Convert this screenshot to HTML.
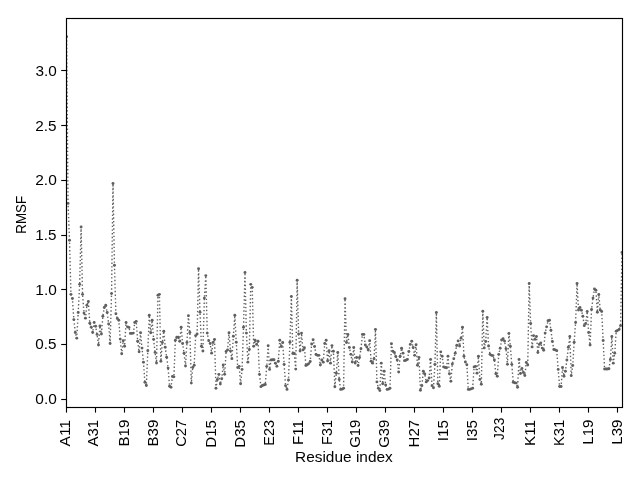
<!DOCTYPE html>
<html><head><meta charset="utf-8"><title>RMSF</title>
<style>
html,body{margin:0;padding:0;background:#fff;width:640px;height:480px;overflow:hidden}
svg{display:block;filter:grayscale(1)}
.t{font-family:"Liberation Sans",sans-serif;font-size:13.889px;fill:#000}
</style></head><body>
<svg width="640" height="480" viewBox="0 0 640 480">
<rect width="640" height="480" fill="#fff"/>
<defs><clipPath id="ax"><rect x="66.5" y="18.5" width="556" height="389"/></clipPath></defs>
<g clip-path="url(#ax)"><polyline points="66.60,36.63 68.05,203.40 69.50,240.27 70.95,294.36 72.40,298.53 73.85,319.59 75.30,332.54 76.75,338.14 78.20,312.57 79.65,284.37 81.10,226.88 82.55,294.36 84.00,313.12 85.45,318.17 86.90,305.22 88.35,301.49 89.80,323.21 91.25,327.16 92.70,332.54 94.15,322.45 95.60,326.29 97.05,334.41 98.50,345.05 99.95,325.96 101.40,333.97 102.85,316.30 104.30,307.52 105.75,305.22 107.20,312.57 108.65,323.98 110.10,343.51 111.55,293.59 113.00,183.54 114.45,265.28 115.90,313.78 117.35,318.50 118.80,320.25 120.25,339.12 121.70,353.72 123.16,340.66 124.61,346.26 126.06,322.45 127.51,326.83 128.96,327.38 130.41,333.42 131.86,333.42 133.31,333.09 134.76,322.45 136.21,321.35 137.66,341.21 139.11,351.85 140.56,332.76 142.01,348.12 143.46,362.16 144.91,382.24 146.36,385.43 147.81,350.64 149.26,315.20 150.71,332.76 152.16,320.25 153.61,339.34 155.06,352.40 156.51,362.93 157.96,295.24 159.41,294.36 160.86,361.29 162.31,342.52 163.76,331.22 165.21,347.24 166.66,357.23 168.11,368.09 169.56,386.30 171.01,387.18 172.46,376.54 173.91,376.87 175.36,340.22 176.81,337.26 178.26,337.26 179.71,341.21 181.16,327.27 182.61,343.51 184.06,353.17 185.51,366.00 186.96,342.52 188.41,315.64 189.86,332.54 191.31,383.12 192.76,367.54 194.21,365.24 195.66,335.61 197.11,333.97 198.56,268.79 200.01,312.13 201.46,346.26 202.91,350.97 204.36,298.09 205.81,275.60 207.26,333.09 208.71,340.66 210.16,343.51 211.61,353.17 213.06,342.52 214.51,339.34 215.96,388.28 217.41,379.50 218.86,374.34 220.31,384.00 221.76,378.73 223.21,365.02 224.66,374.34 226.11,351.52 227.56,349.88 229.01,332.76 230.46,350.97 231.91,358.65 233.37,336.27 234.82,315.20 236.27,342.20 237.72,367.54 239.17,366.33 240.62,383.78 242.07,369.41 243.52,327.27 244.97,272.52 246.42,333.09 247.87,362.16 249.32,349.44 250.77,284.37 252.22,287.34 253.67,346.26 255.12,340.22 256.57,344.39 258.02,341.21 259.47,374.34 260.92,386.63 262.37,385.43 263.82,384.99 265.27,384.44 266.72,366.33 268.17,345.82 269.62,369.41 271.07,359.97 272.52,359.75 273.97,359.75 275.42,363.15 276.87,366.33 278.32,361.29 279.77,340.22 281.22,346.47 282.67,342.52 284.12,364.36 285.57,385.64 287.02,389.38 288.47,380.05 289.92,342.20 291.37,296.55 292.82,353.50 294.27,353.50 295.72,369.08 297.17,280.20 298.62,333.97 300.07,350.97 301.52,333.09 302.97,349.88 304.42,347.68 305.87,365.57 307.32,364.80 308.77,363.59 310.22,361.51 311.67,343.95 313.12,339.78 314.57,346.47 316.02,354.48 317.47,355.36 318.92,355.36 320.37,365.02 321.82,359.97 323.27,362.16 324.72,343.51 326.17,340.22 327.62,360.96 329.07,350.64 330.52,363.15 331.97,345.60 333.42,351.30 334.87,386.74 336.32,373.25 337.77,352.40 339.22,379.50 340.67,389.38 342.12,389.16 343.57,388.28 345.03,298.75 346.48,342.52 347.93,334.41 349.38,347.46 350.83,354.37 352.28,361.95 353.73,347.46 355.18,363.04 356.63,357.56 358.08,365.57 359.53,357.56 360.98,348.78 362.43,334.41 363.88,334.41 365.33,345.05 366.78,346.91 368.23,349.99 369.68,340.66 371.13,361.29 372.58,363.15 374.03,358.76 375.48,329.36 376.93,381.91 378.38,388.28 379.83,390.58 381.28,363.15 382.73,383.78 384.18,371.27 385.63,384.99 387.08,389.38 388.53,389.16 389.98,388.28 391.43,343.73 392.88,351.30 394.33,352.51 395.78,356.46 397.23,359.97 398.68,371.93 400.13,356.24 401.58,348.23 403.03,353.17 404.48,360.63 405.93,360.30 407.38,359.42 408.83,351.52 410.28,344.39 411.73,341.21 413.18,347.46 414.63,355.36 416.08,344.72 417.53,365.24 418.98,357.56 420.43,390.25 421.88,385.64 423.33,371.27 424.78,374.01 426.23,381.91 427.68,380.60 429.13,378.07 430.58,359.42 432.03,385.64 433.48,387.73 434.93,364.36 436.38,312.57 437.83,383.78 439.28,386.30 440.73,351.85 442.18,356.24 443.63,366.88 445.08,367.43 446.53,367.76 447.98,356.24 449.43,373.79 450.88,381.26 452.33,364.03 453.78,358.65 455.23,353.17 456.69,345.49 458.14,340.88 459.59,345.93 461.04,338.14 462.49,327.27 463.94,356.24 465.39,361.95 466.84,364.69 468.29,389.38 469.74,389.38 471.19,388.83 472.64,388.28 474.09,366.88 475.54,366.33 476.99,373.14 478.44,356.24 479.89,379.39 481.34,384.22 482.79,311.25 484.24,347.90 485.69,341.54 487.14,317.51 488.59,345.93 490.04,354.37 491.49,355.36 492.94,355.58 494.39,359.97 495.84,373.79 497.29,376.21 498.74,354.37 500.19,348.23 501.64,340.00 503.09,338.79 504.54,341.10 505.99,348.78 507.44,364.36 508.89,333.42 510.34,346.26 511.79,364.36 513.24,382.24 514.69,382.79 516.14,383.12 517.59,387.29 519.04,359.42 520.49,373.47 521.94,368.53 523.39,372.48 524.84,375.44 526.29,362.49 527.74,365.02 529.19,283.50 530.64,323.54 532.09,346.91 533.54,335.61 534.99,339.34 536.44,336.49 537.89,352.51 539.34,344.39 540.79,342.85 542.24,348.12 543.69,350.21 545.14,333.09 546.59,326.83 548.04,320.80 549.49,320.25 550.94,330.24 552.39,341.43 553.84,349.44 555.29,349.88 556.74,350.64 558.19,369.41 559.64,386.52 561.09,386.52 562.54,367.54 563.99,376.21 565.44,371.27 566.90,359.97 568.35,347.24 569.80,336.49 571.25,375.66 572.70,365.57 574.15,342.20 575.60,322.45 577.05,283.50 578.50,310.05 579.95,307.52 581.40,310.27 582.85,316.30 584.30,325.63 585.75,323.54 587.20,311.47 588.65,332.54 590.10,345.05 591.55,309.39 593.00,298.09 594.45,288.98 595.90,290.30 597.35,312.24 598.80,294.47 600.25,310.05 601.70,311.47 603.15,340.55 604.60,368.97 606.05,368.97 607.50,368.97 608.95,368.75 610.40,359.42 611.85,336.49 613.30,363.15 614.75,353.17 616.20,331.22 617.65,330.35 619.10,329.47 620.55,325.63 622.00,252.55" fill="none" stroke="#606060" stroke-width="1.39" stroke-dasharray="1.39 2.29" stroke-linejoin="round"/><g fill="#606060"><circle cx="66.60" cy="36.63" r="1.45"/><circle cx="68.05" cy="203.40" r="1.45"/><circle cx="69.50" cy="240.27" r="1.45"/><circle cx="70.95" cy="294.36" r="1.45"/><circle cx="72.40" cy="298.53" r="1.45"/><circle cx="73.85" cy="319.59" r="1.45"/><circle cx="75.30" cy="332.54" r="1.45"/><circle cx="76.75" cy="338.14" r="1.45"/><circle cx="78.20" cy="312.57" r="1.45"/><circle cx="79.65" cy="284.37" r="1.45"/><circle cx="81.10" cy="226.88" r="1.45"/><circle cx="82.55" cy="294.36" r="1.45"/><circle cx="84.00" cy="313.12" r="1.45"/><circle cx="85.45" cy="318.17" r="1.45"/><circle cx="86.90" cy="305.22" r="1.45"/><circle cx="88.35" cy="301.49" r="1.45"/><circle cx="89.80" cy="323.21" r="1.45"/><circle cx="91.25" cy="327.16" r="1.45"/><circle cx="92.70" cy="332.54" r="1.45"/><circle cx="94.15" cy="322.45" r="1.45"/><circle cx="95.60" cy="326.29" r="1.45"/><circle cx="97.05" cy="334.41" r="1.45"/><circle cx="98.50" cy="345.05" r="1.45"/><circle cx="99.95" cy="325.96" r="1.45"/><circle cx="101.40" cy="333.97" r="1.45"/><circle cx="102.85" cy="316.30" r="1.45"/><circle cx="104.30" cy="307.52" r="1.45"/><circle cx="105.75" cy="305.22" r="1.45"/><circle cx="107.20" cy="312.57" r="1.45"/><circle cx="108.65" cy="323.98" r="1.45"/><circle cx="110.10" cy="343.51" r="1.45"/><circle cx="111.55" cy="293.59" r="1.45"/><circle cx="113.00" cy="183.54" r="1.45"/><circle cx="114.45" cy="265.28" r="1.45"/><circle cx="115.90" cy="313.78" r="1.45"/><circle cx="117.35" cy="318.50" r="1.45"/><circle cx="118.80" cy="320.25" r="1.45"/><circle cx="120.25" cy="339.12" r="1.45"/><circle cx="121.70" cy="353.72" r="1.45"/><circle cx="123.16" cy="340.66" r="1.45"/><circle cx="124.61" cy="346.26" r="1.45"/><circle cx="126.06" cy="322.45" r="1.45"/><circle cx="127.51" cy="326.83" r="1.45"/><circle cx="128.96" cy="327.38" r="1.45"/><circle cx="130.41" cy="333.42" r="1.45"/><circle cx="131.86" cy="333.42" r="1.45"/><circle cx="133.31" cy="333.09" r="1.45"/><circle cx="134.76" cy="322.45" r="1.45"/><circle cx="136.21" cy="321.35" r="1.45"/><circle cx="137.66" cy="341.21" r="1.45"/><circle cx="139.11" cy="351.85" r="1.45"/><circle cx="140.56" cy="332.76" r="1.45"/><circle cx="142.01" cy="348.12" r="1.45"/><circle cx="143.46" cy="362.16" r="1.45"/><circle cx="144.91" cy="382.24" r="1.45"/><circle cx="146.36" cy="385.43" r="1.45"/><circle cx="147.81" cy="350.64" r="1.45"/><circle cx="149.26" cy="315.20" r="1.45"/><circle cx="150.71" cy="332.76" r="1.45"/><circle cx="152.16" cy="320.25" r="1.45"/><circle cx="153.61" cy="339.34" r="1.45"/><circle cx="155.06" cy="352.40" r="1.45"/><circle cx="156.51" cy="362.93" r="1.45"/><circle cx="157.96" cy="295.24" r="1.45"/><circle cx="159.41" cy="294.36" r="1.45"/><circle cx="160.86" cy="361.29" r="1.45"/><circle cx="162.31" cy="342.52" r="1.45"/><circle cx="163.76" cy="331.22" r="1.45"/><circle cx="165.21" cy="347.24" r="1.45"/><circle cx="166.66" cy="357.23" r="1.45"/><circle cx="168.11" cy="368.09" r="1.45"/><circle cx="169.56" cy="386.30" r="1.45"/><circle cx="171.01" cy="387.18" r="1.45"/><circle cx="172.46" cy="376.54" r="1.45"/><circle cx="173.91" cy="376.87" r="1.45"/><circle cx="175.36" cy="340.22" r="1.45"/><circle cx="176.81" cy="337.26" r="1.45"/><circle cx="178.26" cy="337.26" r="1.45"/><circle cx="179.71" cy="341.21" r="1.45"/><circle cx="181.16" cy="327.27" r="1.45"/><circle cx="182.61" cy="343.51" r="1.45"/><circle cx="184.06" cy="353.17" r="1.45"/><circle cx="185.51" cy="366.00" r="1.45"/><circle cx="186.96" cy="342.52" r="1.45"/><circle cx="188.41" cy="315.64" r="1.45"/><circle cx="189.86" cy="332.54" r="1.45"/><circle cx="191.31" cy="383.12" r="1.45"/><circle cx="192.76" cy="367.54" r="1.45"/><circle cx="194.21" cy="365.24" r="1.45"/><circle cx="195.66" cy="335.61" r="1.45"/><circle cx="197.11" cy="333.97" r="1.45"/><circle cx="198.56" cy="268.79" r="1.45"/><circle cx="200.01" cy="312.13" r="1.45"/><circle cx="201.46" cy="346.26" r="1.45"/><circle cx="202.91" cy="350.97" r="1.45"/><circle cx="204.36" cy="298.09" r="1.45"/><circle cx="205.81" cy="275.60" r="1.45"/><circle cx="207.26" cy="333.09" r="1.45"/><circle cx="208.71" cy="340.66" r="1.45"/><circle cx="210.16" cy="343.51" r="1.45"/><circle cx="211.61" cy="353.17" r="1.45"/><circle cx="213.06" cy="342.52" r="1.45"/><circle cx="214.51" cy="339.34" r="1.45"/><circle cx="215.96" cy="388.28" r="1.45"/><circle cx="217.41" cy="379.50" r="1.45"/><circle cx="218.86" cy="374.34" r="1.45"/><circle cx="220.31" cy="384.00" r="1.45"/><circle cx="221.76" cy="378.73" r="1.45"/><circle cx="223.21" cy="365.02" r="1.45"/><circle cx="224.66" cy="374.34" r="1.45"/><circle cx="226.11" cy="351.52" r="1.45"/><circle cx="227.56" cy="349.88" r="1.45"/><circle cx="229.01" cy="332.76" r="1.45"/><circle cx="230.46" cy="350.97" r="1.45"/><circle cx="231.91" cy="358.65" r="1.45"/><circle cx="233.37" cy="336.27" r="1.45"/><circle cx="234.82" cy="315.20" r="1.45"/><circle cx="236.27" cy="342.20" r="1.45"/><circle cx="237.72" cy="367.54" r="1.45"/><circle cx="239.17" cy="366.33" r="1.45"/><circle cx="240.62" cy="383.78" r="1.45"/><circle cx="242.07" cy="369.41" r="1.45"/><circle cx="243.52" cy="327.27" r="1.45"/><circle cx="244.97" cy="272.52" r="1.45"/><circle cx="246.42" cy="333.09" r="1.45"/><circle cx="247.87" cy="362.16" r="1.45"/><circle cx="249.32" cy="349.44" r="1.45"/><circle cx="250.77" cy="284.37" r="1.45"/><circle cx="252.22" cy="287.34" r="1.45"/><circle cx="253.67" cy="346.26" r="1.45"/><circle cx="255.12" cy="340.22" r="1.45"/><circle cx="256.57" cy="344.39" r="1.45"/><circle cx="258.02" cy="341.21" r="1.45"/><circle cx="259.47" cy="374.34" r="1.45"/><circle cx="260.92" cy="386.63" r="1.45"/><circle cx="262.37" cy="385.43" r="1.45"/><circle cx="263.82" cy="384.99" r="1.45"/><circle cx="265.27" cy="384.44" r="1.45"/><circle cx="266.72" cy="366.33" r="1.45"/><circle cx="268.17" cy="345.82" r="1.45"/><circle cx="269.62" cy="369.41" r="1.45"/><circle cx="271.07" cy="359.97" r="1.45"/><circle cx="272.52" cy="359.75" r="1.45"/><circle cx="273.97" cy="359.75" r="1.45"/><circle cx="275.42" cy="363.15" r="1.45"/><circle cx="276.87" cy="366.33" r="1.45"/><circle cx="278.32" cy="361.29" r="1.45"/><circle cx="279.77" cy="340.22" r="1.45"/><circle cx="281.22" cy="346.47" r="1.45"/><circle cx="282.67" cy="342.52" r="1.45"/><circle cx="284.12" cy="364.36" r="1.45"/><circle cx="285.57" cy="385.64" r="1.45"/><circle cx="287.02" cy="389.38" r="1.45"/><circle cx="288.47" cy="380.05" r="1.45"/><circle cx="289.92" cy="342.20" r="1.45"/><circle cx="291.37" cy="296.55" r="1.45"/><circle cx="292.82" cy="353.50" r="1.45"/><circle cx="294.27" cy="353.50" r="1.45"/><circle cx="295.72" cy="369.08" r="1.45"/><circle cx="297.17" cy="280.20" r="1.45"/><circle cx="298.62" cy="333.97" r="1.45"/><circle cx="300.07" cy="350.97" r="1.45"/><circle cx="301.52" cy="333.09" r="1.45"/><circle cx="302.97" cy="349.88" r="1.45"/><circle cx="304.42" cy="347.68" r="1.45"/><circle cx="305.87" cy="365.57" r="1.45"/><circle cx="307.32" cy="364.80" r="1.45"/><circle cx="308.77" cy="363.59" r="1.45"/><circle cx="310.22" cy="361.51" r="1.45"/><circle cx="311.67" cy="343.95" r="1.45"/><circle cx="313.12" cy="339.78" r="1.45"/><circle cx="314.57" cy="346.47" r="1.45"/><circle cx="316.02" cy="354.48" r="1.45"/><circle cx="317.47" cy="355.36" r="1.45"/><circle cx="318.92" cy="355.36" r="1.45"/><circle cx="320.37" cy="365.02" r="1.45"/><circle cx="321.82" cy="359.97" r="1.45"/><circle cx="323.27" cy="362.16" r="1.45"/><circle cx="324.72" cy="343.51" r="1.45"/><circle cx="326.17" cy="340.22" r="1.45"/><circle cx="327.62" cy="360.96" r="1.45"/><circle cx="329.07" cy="350.64" r="1.45"/><circle cx="330.52" cy="363.15" r="1.45"/><circle cx="331.97" cy="345.60" r="1.45"/><circle cx="333.42" cy="351.30" r="1.45"/><circle cx="334.87" cy="386.74" r="1.45"/><circle cx="336.32" cy="373.25" r="1.45"/><circle cx="337.77" cy="352.40" r="1.45"/><circle cx="339.22" cy="379.50" r="1.45"/><circle cx="340.67" cy="389.38" r="1.45"/><circle cx="342.12" cy="389.16" r="1.45"/><circle cx="343.57" cy="388.28" r="1.45"/><circle cx="345.03" cy="298.75" r="1.45"/><circle cx="346.48" cy="342.52" r="1.45"/><circle cx="347.93" cy="334.41" r="1.45"/><circle cx="349.38" cy="347.46" r="1.45"/><circle cx="350.83" cy="354.37" r="1.45"/><circle cx="352.28" cy="361.95" r="1.45"/><circle cx="353.73" cy="347.46" r="1.45"/><circle cx="355.18" cy="363.04" r="1.45"/><circle cx="356.63" cy="357.56" r="1.45"/><circle cx="358.08" cy="365.57" r="1.45"/><circle cx="359.53" cy="357.56" r="1.45"/><circle cx="360.98" cy="348.78" r="1.45"/><circle cx="362.43" cy="334.41" r="1.45"/><circle cx="363.88" cy="334.41" r="1.45"/><circle cx="365.33" cy="345.05" r="1.45"/><circle cx="366.78" cy="346.91" r="1.45"/><circle cx="368.23" cy="349.99" r="1.45"/><circle cx="369.68" cy="340.66" r="1.45"/><circle cx="371.13" cy="361.29" r="1.45"/><circle cx="372.58" cy="363.15" r="1.45"/><circle cx="374.03" cy="358.76" r="1.45"/><circle cx="375.48" cy="329.36" r="1.45"/><circle cx="376.93" cy="381.91" r="1.45"/><circle cx="378.38" cy="388.28" r="1.45"/><circle cx="379.83" cy="390.58" r="1.45"/><circle cx="381.28" cy="363.15" r="1.45"/><circle cx="382.73" cy="383.78" r="1.45"/><circle cx="384.18" cy="371.27" r="1.45"/><circle cx="385.63" cy="384.99" r="1.45"/><circle cx="387.08" cy="389.38" r="1.45"/><circle cx="388.53" cy="389.16" r="1.45"/><circle cx="389.98" cy="388.28" r="1.45"/><circle cx="391.43" cy="343.73" r="1.45"/><circle cx="392.88" cy="351.30" r="1.45"/><circle cx="394.33" cy="352.51" r="1.45"/><circle cx="395.78" cy="356.46" r="1.45"/><circle cx="397.23" cy="359.97" r="1.45"/><circle cx="398.68" cy="371.93" r="1.45"/><circle cx="400.13" cy="356.24" r="1.45"/><circle cx="401.58" cy="348.23" r="1.45"/><circle cx="403.03" cy="353.17" r="1.45"/><circle cx="404.48" cy="360.63" r="1.45"/><circle cx="405.93" cy="360.30" r="1.45"/><circle cx="407.38" cy="359.42" r="1.45"/><circle cx="408.83" cy="351.52" r="1.45"/><circle cx="410.28" cy="344.39" r="1.45"/><circle cx="411.73" cy="341.21" r="1.45"/><circle cx="413.18" cy="347.46" r="1.45"/><circle cx="414.63" cy="355.36" r="1.45"/><circle cx="416.08" cy="344.72" r="1.45"/><circle cx="417.53" cy="365.24" r="1.45"/><circle cx="418.98" cy="357.56" r="1.45"/><circle cx="420.43" cy="390.25" r="1.45"/><circle cx="421.88" cy="385.64" r="1.45"/><circle cx="423.33" cy="371.27" r="1.45"/><circle cx="424.78" cy="374.01" r="1.45"/><circle cx="426.23" cy="381.91" r="1.45"/><circle cx="427.68" cy="380.60" r="1.45"/><circle cx="429.13" cy="378.07" r="1.45"/><circle cx="430.58" cy="359.42" r="1.45"/><circle cx="432.03" cy="385.64" r="1.45"/><circle cx="433.48" cy="387.73" r="1.45"/><circle cx="434.93" cy="364.36" r="1.45"/><circle cx="436.38" cy="312.57" r="1.45"/><circle cx="437.83" cy="383.78" r="1.45"/><circle cx="439.28" cy="386.30" r="1.45"/><circle cx="440.73" cy="351.85" r="1.45"/><circle cx="442.18" cy="356.24" r="1.45"/><circle cx="443.63" cy="366.88" r="1.45"/><circle cx="445.08" cy="367.43" r="1.45"/><circle cx="446.53" cy="367.76" r="1.45"/><circle cx="447.98" cy="356.24" r="1.45"/><circle cx="449.43" cy="373.79" r="1.45"/><circle cx="450.88" cy="381.26" r="1.45"/><circle cx="452.33" cy="364.03" r="1.45"/><circle cx="453.78" cy="358.65" r="1.45"/><circle cx="455.23" cy="353.17" r="1.45"/><circle cx="456.69" cy="345.49" r="1.45"/><circle cx="458.14" cy="340.88" r="1.45"/><circle cx="459.59" cy="345.93" r="1.45"/><circle cx="461.04" cy="338.14" r="1.45"/><circle cx="462.49" cy="327.27" r="1.45"/><circle cx="463.94" cy="356.24" r="1.45"/><circle cx="465.39" cy="361.95" r="1.45"/><circle cx="466.84" cy="364.69" r="1.45"/><circle cx="468.29" cy="389.38" r="1.45"/><circle cx="469.74" cy="389.38" r="1.45"/><circle cx="471.19" cy="388.83" r="1.45"/><circle cx="472.64" cy="388.28" r="1.45"/><circle cx="474.09" cy="366.88" r="1.45"/><circle cx="475.54" cy="366.33" r="1.45"/><circle cx="476.99" cy="373.14" r="1.45"/><circle cx="478.44" cy="356.24" r="1.45"/><circle cx="479.89" cy="379.39" r="1.45"/><circle cx="481.34" cy="384.22" r="1.45"/><circle cx="482.79" cy="311.25" r="1.45"/><circle cx="484.24" cy="347.90" r="1.45"/><circle cx="485.69" cy="341.54" r="1.45"/><circle cx="487.14" cy="317.51" r="1.45"/><circle cx="488.59" cy="345.93" r="1.45"/><circle cx="490.04" cy="354.37" r="1.45"/><circle cx="491.49" cy="355.36" r="1.45"/><circle cx="492.94" cy="355.58" r="1.45"/><circle cx="494.39" cy="359.97" r="1.45"/><circle cx="495.84" cy="373.79" r="1.45"/><circle cx="497.29" cy="376.21" r="1.45"/><circle cx="498.74" cy="354.37" r="1.45"/><circle cx="500.19" cy="348.23" r="1.45"/><circle cx="501.64" cy="340.00" r="1.45"/><circle cx="503.09" cy="338.79" r="1.45"/><circle cx="504.54" cy="341.10" r="1.45"/><circle cx="505.99" cy="348.78" r="1.45"/><circle cx="507.44" cy="364.36" r="1.45"/><circle cx="508.89" cy="333.42" r="1.45"/><circle cx="510.34" cy="346.26" r="1.45"/><circle cx="511.79" cy="364.36" r="1.45"/><circle cx="513.24" cy="382.24" r="1.45"/><circle cx="514.69" cy="382.79" r="1.45"/><circle cx="516.14" cy="383.12" r="1.45"/><circle cx="517.59" cy="387.29" r="1.45"/><circle cx="519.04" cy="359.42" r="1.45"/><circle cx="520.49" cy="373.47" r="1.45"/><circle cx="521.94" cy="368.53" r="1.45"/><circle cx="523.39" cy="372.48" r="1.45"/><circle cx="524.84" cy="375.44" r="1.45"/><circle cx="526.29" cy="362.49" r="1.45"/><circle cx="527.74" cy="365.02" r="1.45"/><circle cx="529.19" cy="283.50" r="1.45"/><circle cx="530.64" cy="323.54" r="1.45"/><circle cx="532.09" cy="346.91" r="1.45"/><circle cx="533.54" cy="335.61" r="1.45"/><circle cx="534.99" cy="339.34" r="1.45"/><circle cx="536.44" cy="336.49" r="1.45"/><circle cx="537.89" cy="352.51" r="1.45"/><circle cx="539.34" cy="344.39" r="1.45"/><circle cx="540.79" cy="342.85" r="1.45"/><circle cx="542.24" cy="348.12" r="1.45"/><circle cx="543.69" cy="350.21" r="1.45"/><circle cx="545.14" cy="333.09" r="1.45"/><circle cx="546.59" cy="326.83" r="1.45"/><circle cx="548.04" cy="320.80" r="1.45"/><circle cx="549.49" cy="320.25" r="1.45"/><circle cx="550.94" cy="330.24" r="1.45"/><circle cx="552.39" cy="341.43" r="1.45"/><circle cx="553.84" cy="349.44" r="1.45"/><circle cx="555.29" cy="349.88" r="1.45"/><circle cx="556.74" cy="350.64" r="1.45"/><circle cx="558.19" cy="369.41" r="1.45"/><circle cx="559.64" cy="386.52" r="1.45"/><circle cx="561.09" cy="386.52" r="1.45"/><circle cx="562.54" cy="367.54" r="1.45"/><circle cx="563.99" cy="376.21" r="1.45"/><circle cx="565.44" cy="371.27" r="1.45"/><circle cx="566.90" cy="359.97" r="1.45"/><circle cx="568.35" cy="347.24" r="1.45"/><circle cx="569.80" cy="336.49" r="1.45"/><circle cx="571.25" cy="375.66" r="1.45"/><circle cx="572.70" cy="365.57" r="1.45"/><circle cx="574.15" cy="342.20" r="1.45"/><circle cx="575.60" cy="322.45" r="1.45"/><circle cx="577.05" cy="283.50" r="1.45"/><circle cx="578.50" cy="310.05" r="1.45"/><circle cx="579.95" cy="307.52" r="1.45"/><circle cx="581.40" cy="310.27" r="1.45"/><circle cx="582.85" cy="316.30" r="1.45"/><circle cx="584.30" cy="325.63" r="1.45"/><circle cx="585.75" cy="323.54" r="1.45"/><circle cx="587.20" cy="311.47" r="1.45"/><circle cx="588.65" cy="332.54" r="1.45"/><circle cx="590.10" cy="345.05" r="1.45"/><circle cx="591.55" cy="309.39" r="1.45"/><circle cx="593.00" cy="298.09" r="1.45"/><circle cx="594.45" cy="288.98" r="1.45"/><circle cx="595.90" cy="290.30" r="1.45"/><circle cx="597.35" cy="312.24" r="1.45"/><circle cx="598.80" cy="294.47" r="1.45"/><circle cx="600.25" cy="310.05" r="1.45"/><circle cx="601.70" cy="311.47" r="1.45"/><circle cx="603.15" cy="340.55" r="1.45"/><circle cx="604.60" cy="368.97" r="1.45"/><circle cx="606.05" cy="368.97" r="1.45"/><circle cx="607.50" cy="368.97" r="1.45"/><circle cx="608.95" cy="368.75" r="1.45"/><circle cx="610.40" cy="359.42" r="1.45"/><circle cx="611.85" cy="336.49" r="1.45"/><circle cx="613.30" cy="363.15" r="1.45"/><circle cx="614.75" cy="353.17" r="1.45"/><circle cx="616.20" cy="331.22" r="1.45"/><circle cx="617.65" cy="330.35" r="1.45"/><circle cx="619.10" cy="329.47" r="1.45"/><circle cx="620.55" cy="325.63" r="1.45"/><circle cx="622.00" cy="252.55" r="1.45"/></g></g>
<rect x="66.5" y="18.5" width="556" height="389" fill="none" stroke="#000" stroke-width="1.15"/>
<line x1="66.50" y1="407.5" x2="66.50" y2="412.60" stroke="#000" stroke-width="1.11"/>
<text class="t" transform="translate(69.90,446.50) rotate(-90)" textLength="26.54" lengthAdjust="spacingAndGlyphs">A11</text>
<line x1="95.50" y1="407.5" x2="95.50" y2="412.60" stroke="#000" stroke-width="1.11"/>
<text class="t" transform="translate(97.80,446.50) rotate(-90)" textLength="26.54" lengthAdjust="spacingAndGlyphs">A31</text>
<line x1="124.50" y1="407.5" x2="124.50" y2="412.60" stroke="#000" stroke-width="1.11"/>
<text class="t" transform="translate(128.60,446.47) rotate(-90)" textLength="26.81" lengthAdjust="spacingAndGlyphs">B19</text>
<line x1="153.50" y1="407.5" x2="153.50" y2="412.60" stroke="#000" stroke-width="1.11"/>
<text class="t" transform="translate(157.60,446.47) rotate(-90)" textLength="26.81" lengthAdjust="spacingAndGlyphs">B39</text>
<line x1="182.50" y1="407.5" x2="182.50" y2="412.60" stroke="#000" stroke-width="1.11"/>
<text class="t" transform="translate(186.00,446.74) rotate(-90)" textLength="26.89" lengthAdjust="spacingAndGlyphs">C27</text>
<line x1="211.50" y1="407.5" x2="211.50" y2="412.60" stroke="#000" stroke-width="1.11"/>
<text class="t" transform="translate(215.60,447.64) rotate(-90)" textLength="27.66" lengthAdjust="spacingAndGlyphs">D15</text>
<line x1="240.50" y1="407.5" x2="240.50" y2="412.60" stroke="#000" stroke-width="1.11"/>
<text class="t" transform="translate(244.60,447.64) rotate(-90)" textLength="27.66" lengthAdjust="spacingAndGlyphs">D35</text>
<line x1="269.50" y1="407.5" x2="269.50" y2="412.60" stroke="#000" stroke-width="1.11"/>
<text class="t" transform="translate(273.60,445.68) rotate(-90)" textLength="25.80" lengthAdjust="spacingAndGlyphs">E23</text>
<line x1="298.50" y1="407.5" x2="298.50" y2="412.60" stroke="#000" stroke-width="1.11"/>
<text class="t" transform="translate(302.60,444.88) rotate(-90)" textLength="24.91" lengthAdjust="spacingAndGlyphs">F11</text>
<line x1="327.50" y1="407.5" x2="327.50" y2="412.60" stroke="#000" stroke-width="1.11"/>
<text class="t" transform="translate(331.60,444.88) rotate(-90)" textLength="24.91" lengthAdjust="spacingAndGlyphs">F31</text>
<line x1="356.50" y1="407.5" x2="356.50" y2="412.60" stroke="#000" stroke-width="1.11"/>
<text class="t" transform="translate(359.65,447.80) rotate(-90)" textLength="28.13" lengthAdjust="spacingAndGlyphs">G19</text>
<line x1="385.50" y1="407.5" x2="385.50" y2="412.60" stroke="#000" stroke-width="1.11"/>
<text class="t" transform="translate(388.65,447.80) rotate(-90)" textLength="28.13" lengthAdjust="spacingAndGlyphs">G39</text>
<line x1="414.50" y1="407.5" x2="414.50" y2="412.60" stroke="#000" stroke-width="1.11"/>
<text class="t" transform="translate(418.60,447.39) rotate(-90)" textLength="27.55" lengthAdjust="spacingAndGlyphs">H27</text>
<line x1="443.50" y1="407.5" x2="443.50" y2="412.60" stroke="#000" stroke-width="1.11"/>
<text class="t" transform="translate(447.60,441.22) rotate(-90)" textLength="21.24" lengthAdjust="spacingAndGlyphs">I15</text>
<line x1="472.50" y1="407.5" x2="472.50" y2="412.60" stroke="#000" stroke-width="1.11"/>
<text class="t" transform="translate(476.60,441.22) rotate(-90)" textLength="21.24" lengthAdjust="spacingAndGlyphs">I35</text>
<line x1="501.50" y1="407.5" x2="501.50" y2="412.60" stroke="#000" stroke-width="1.11"/>
<text class="t" transform="translate(503.90,439.90) rotate(-90)" textLength="22.20" lengthAdjust="spacingAndGlyphs">J23</text>
<line x1="530.50" y1="407.5" x2="530.50" y2="412.60" stroke="#000" stroke-width="1.11"/>
<text class="t" transform="translate(534.60,446.02) rotate(-90)" textLength="26.05" lengthAdjust="spacingAndGlyphs">K11</text>
<line x1="559.50" y1="407.5" x2="559.50" y2="412.60" stroke="#000" stroke-width="1.11"/>
<text class="t" transform="translate(563.60,446.02) rotate(-90)" textLength="26.05" lengthAdjust="spacingAndGlyphs">K31</text>
<line x1="588.50" y1="407.5" x2="588.50" y2="412.60" stroke="#000" stroke-width="1.11"/>
<text class="t" transform="translate(592.60,444.68) rotate(-90)" textLength="25.01" lengthAdjust="spacingAndGlyphs">L19</text>
<line x1="617.50" y1="407.5" x2="617.50" y2="412.60" stroke="#000" stroke-width="1.11"/>
<text class="t" transform="translate(621.60,444.68) rotate(-90)" textLength="25.01" lengthAdjust="spacingAndGlyphs">L39</text>
<line x1="61.20" y1="399.50" x2="66.6" y2="399.50" stroke="#000" stroke-width="1.11"/>
<text class="t" x="35.32" y="403.75" textLength="21.46" lengthAdjust="spacingAndGlyphs">0.0</text>
<line x1="61.20" y1="344.50" x2="66.6" y2="344.50" stroke="#000" stroke-width="1.11"/>
<text class="t" x="35.33" y="348.90" textLength="21.19" lengthAdjust="spacingAndGlyphs">0.5</text>
<line x1="61.20" y1="289.50" x2="66.6" y2="289.50" stroke="#000" stroke-width="1.11"/>
<text class="t" x="35.36" y="294.90" textLength="21.42" lengthAdjust="spacingAndGlyphs">1.0</text>
<line x1="61.20" y1="235.50" x2="66.6" y2="235.50" stroke="#000" stroke-width="1.11"/>
<text class="t" x="35.38" y="240.00" textLength="21.15" lengthAdjust="spacingAndGlyphs">1.5</text>
<line x1="61.20" y1="180.50" x2="66.6" y2="180.50" stroke="#000" stroke-width="1.11"/>
<text class="t" x="35.25" y="185.00" textLength="21.53" lengthAdjust="spacingAndGlyphs">2.0</text>
<line x1="61.20" y1="125.50" x2="66.6" y2="125.50" stroke="#000" stroke-width="1.11"/>
<text class="t" x="35.26" y="130.90" textLength="21.27" lengthAdjust="spacingAndGlyphs">2.5</text>
<line x1="61.20" y1="70.50" x2="66.6" y2="70.50" stroke="#000" stroke-width="1.11"/>
<text class="t" x="35.49" y="76.00" textLength="21.29" lengthAdjust="spacingAndGlyphs">3.0</text>
<text class="t" x="295.04" y="462" textLength="97.72" lengthAdjust="spacingAndGlyphs">Residue index</text>
<text class="t" transform="translate(26.3,233.75) rotate(-90)" textLength="37.90" lengthAdjust="spacingAndGlyphs">RMSF</text>
</svg>
</body></html>
